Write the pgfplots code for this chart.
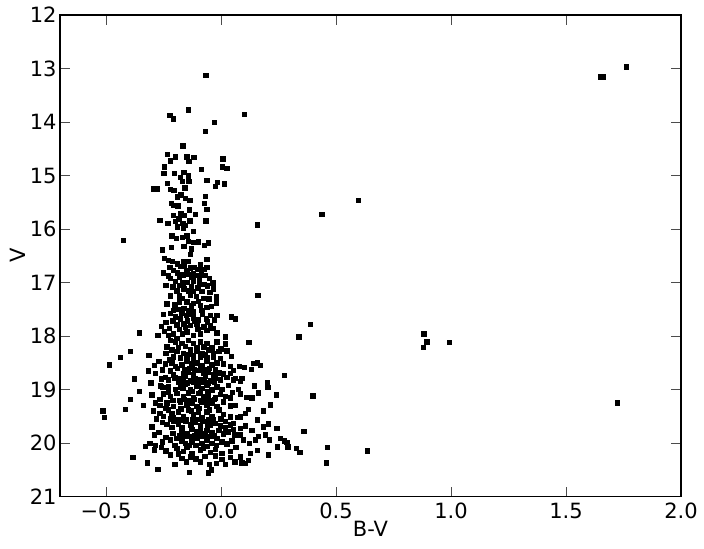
\documentclass[border=0pt]{standalone}
\usepackage{fontspec}
\setmainfont{DejaVu Sans}
\usepackage{pgfplots}
\pgfplotsset{compat=1.18}

\pgfplotstableread{
x y
1.649 13.16
1.662 13.16
1.762 12.97
1.723 19.25
0.597 15.47
0.438 15.73
0.388 17.78
0.339 18.02
0.882 17.96
0.895 18.11
0.881 18.21
0.992 18.12
0.275 18.74
0.400 19.12
0.636 20.15
0.463 20.08
0.459 20.37
0.361 19.78
-0.425 16.21
-0.513 19.40
-0.506 19.52
-0.066 13.13
-0.143 13.77
-0.223 13.88
-0.206 13.94
0.101 13.86
-0.030 14.01
-0.068 14.17
-0.165 14.45
-0.232 14.61
-0.199 14.65
-0.149 14.65
-0.117 14.66
-0.220 14.73
-0.139 14.74
0.009 14.69
0.006 14.84
0.025 14.87
-0.245 14.84
-0.085 14.89
-0.248 14.96
-0.202 14.96
-0.162 14.94
-0.142 15.01
-0.176 15.04
-0.139 15.11
-0.167 15.11
-0.062 15.09
-0.016 15.13
0.014 15.16
-0.024 15.20
-0.233 15.15
-0.293 15.25
-0.276 15.25
-0.219 15.26
-0.204 15.28
-0.157 15.23
-0.069 15.39
-0.190 15.40
-0.174 15.36
-0.154 15.43
-0.136 15.46
-0.216 15.52
-0.204 15.56
-0.187 15.57
-0.071 15.52
-0.061 15.63
-0.138 15.64
-0.206 15.75
-0.174 15.71
-0.158 15.75
-0.111 15.73
-0.265 15.84
-0.231 15.89
-0.199 15.86
-0.183 15.81
-0.165 15.89
-0.136 15.85
-0.065 15.85
0.159 15.92
-0.189 15.96
-0.164 15.98
-0.155 15.93
-0.213 16.13
-0.194 16.18
-0.167 16.16
-0.149 16.13
-0.119 16.05
-0.143 16.23
-0.098 16.24
-0.071 16.31
-0.056 16.26
-0.119 16.25
-0.215 16.34
-0.255 16.39
-0.130 16.37
-0.161 16.33
-0.133 16.48
-0.245 16.55
-0.229 16.59
-0.212 16.60
-0.161 16.60
-0.141 16.60
-0.061 16.57
-0.222 16.72
-0.206 16.77
-0.250 16.82
-0.148 16.78
-0.133 16.73
-0.115 16.72
-0.101 16.76
-0.075 16.76
-0.061 16.72
-0.140 16.85
-0.120 16.84
-0.105 16.87
-0.085 16.85
-0.070 16.87
-0.130 16.90
-0.095 16.92
-0.220 16.92
-0.180 16.91
-0.199 16.98
-0.165 17.01
-0.145 17.00
-0.119 16.97
-0.093 17.01
-0.035 17.01
-0.075 17.04
-0.032 17.12
-0.191 17.16
-0.162 17.12
-0.141 17.16
-0.119 17.17
-0.083 17.17
-0.049 17.18
-0.219 17.25
-0.180 17.25
-0.133 17.23
-0.107 17.26
-0.075 17.30
-0.053 17.31
-0.020 17.27
0.160 17.24
-0.180 17.36
-0.148 17.36
-0.119 17.39
-0.097 17.35
-0.043 17.45
-0.206 17.52
-0.184 17.50
-0.162 17.48
-0.141 17.52
-0.119 17.55
-0.083 17.52
-0.061 17.47
-0.017 17.61
0.044 17.64
0.063 17.68
-0.199 17.64
-0.177 17.68
-0.150 17.62
-0.119 17.66
-0.097 17.70
-0.064 17.68
-0.191 17.79
-0.162 17.77
-0.133 17.80
-0.104 17.77
-0.075 17.83
-0.046 17.80
-0.355 17.94
-0.275 17.99
-0.245 17.91
-0.228 17.99
-0.206 17.96
-0.191 18.04
-0.169 17.96
-0.148 17.92
-0.120 17.99
-0.090 17.96
-0.061 17.89
-0.017 17.94
0.019 18.02
0.121 18.12
-0.190 16.65
-0.175 16.70
-0.160 16.68
-0.090 16.66
-0.230 16.88
-0.190 16.82
-0.165 16.86
-0.050 16.92
-0.240 17.05
-0.210 17.08
-0.180 17.05
-0.130 17.08
-0.100 17.10
-0.060 17.06
-0.235 17.40
-0.200 17.42
-0.170 17.30
-0.130 17.44
-0.090 17.43
-0.020 17.38
-0.250 17.60
-0.220 17.58
-0.170 17.58
-0.135 17.60
-0.080 17.60
-0.045 17.62
-0.240 17.75
-0.210 17.72
-0.145 17.72
-0.115 17.73
-0.060 17.74
-0.030 17.70
-0.180 17.88
-0.155 17.84
-0.100 17.88
-0.035 17.86
-0.260 17.82
-0.225 17.86
-0.220 18.08
-0.199 18.11
-0.170 18.14
-0.141 18.08
-0.119 18.14
-0.090 18.11
-0.061 18.14
-0.017 18.11
0.019 18.15
-0.235 18.20
-0.185 18.21
-0.155 18.19
-0.105 18.22
-0.075 18.20
-0.040 18.22
0.000 18.24
-0.213 18.26
-0.191 18.29
-0.163 18.32
-0.133 18.26
-0.104 18.29
-0.083 18.32
-0.054 18.26
-0.032 18.32
-0.010 18.29
0.026 18.28
-0.206 18.39
-0.177 18.41
-0.148 18.40
-0.119 18.43
-0.090 18.39
-0.061 18.41
-0.032 18.40
-0.003 18.42
-0.240 18.33
-0.225 18.45
-0.140 18.34
-0.120 18.36
-0.070 18.35
0.045 18.38
-0.242 18.52
-0.213 18.50
-0.199 18.57
-0.170 18.54
-0.148 18.48
-0.126 18.52
-0.104 18.50
-0.083 18.56
-0.061 18.48
-0.039 18.54
-0.017 18.50
0.011 18.52
0.040 18.57
-0.220 18.65
-0.206 18.73
-0.163 18.70
-0.141 18.67
-0.119 18.73
-0.097 18.64
-0.076 18.70
-0.054 18.67
-0.032 18.73
-0.010 18.69
0.011 18.71
0.040 18.70
-0.242 18.77
-0.228 18.82
-0.177 18.79
-0.155 18.76
-0.133 18.84
-0.112 18.79
-0.090 18.82
-0.068 18.76
-0.047 18.84
-0.025 18.79
-0.003 18.82
0.026 18.77
0.055 18.82
-0.264 18.92
-0.252 18.96
-0.199 19.00
-0.177 18.95
-0.155 18.90
-0.133 19.01
-0.104 18.93
-0.083 18.98
-0.061 18.92
-0.039 19.01
-0.017 18.95
0.004 19.00
0.033 18.92
-0.264 19.18
-0.220 19.13
-0.191 19.07
-0.163 19.13
-0.141 19.06
-0.119 19.15
-0.097 19.07
-0.076 19.13
-0.054 19.10
-0.025 19.16
-0.003 19.09
0.019 19.13
0.040 19.16
-0.235 19.25
-0.206 19.32
-0.177 19.23
-0.148 19.29
-0.126 19.25
-0.104 19.32
-0.083 19.23
-0.061 19.29
-0.039 19.26
-0.017 19.32
0.011 19.23
0.040 19.31
-0.250 19.50
-0.228 19.38
-0.213 19.45
-0.206 19.53
-0.184 19.42
-0.163 19.50
-0.141 19.38
-0.119 19.46
-0.097 19.42
-0.083 19.52
-0.061 19.42
-0.039 19.51
-0.010 19.38
0.011 19.46
0.040 19.51
-0.206 19.60
-0.184 19.64
-0.155 19.60
-0.133 19.66
-0.112 19.62
-0.090 19.68
-0.068 19.60
-0.047 19.66
-0.025 19.63
-0.003 19.68
0.019 19.60
0.040 19.66
-0.213 19.71
-0.170 19.76
-0.148 19.82
-0.126 19.75
-0.104 19.79
-0.083 19.83
-0.061 19.76
-0.039 19.81
-0.010 19.76
0.011 19.83
0.033 19.79
0.055 19.75
-0.220 19.94
-0.191 19.91
-0.170 19.96
-0.155 20.01
-0.126 19.98
-0.104 19.91
-0.083 20.01
-0.061 19.94
-0.039 20.01
-0.017 19.91
0.004 19.98
0.026 20.02
0.048 19.96
-0.191 20.10
-0.163 20.16
-0.148 20.08
-0.126 20.19
-0.090 20.13
-0.076 20.10
-0.047 20.18
-0.025 20.12
0.004 20.19
0.040 20.16
-0.170 20.29
-0.133 20.26
-0.090 20.35
-0.025 20.24
0.004 20.31
0.040 20.27
-0.042 20.50
-0.190 18.60
-0.160 18.62
-0.135 18.60
-0.115 18.62
-0.090 18.60
-0.070 18.62
-0.050 18.60
-0.025 18.62
-0.185 18.87
-0.165 18.86
-0.145 18.88
-0.120 18.86
-0.100 18.88
-0.075 18.86
-0.055 18.88
-0.030 18.86
-0.180 19.20
-0.160 19.19
-0.140 19.20
-0.115 19.19
-0.090 19.20
-0.070 19.19
-0.050 19.20
-0.030 19.19
-0.190 19.56
-0.170 19.57
-0.150 19.56
-0.125 19.57
-0.105 19.56
-0.080 19.57
-0.055 19.56
-0.035 19.57
-0.180 19.87
-0.160 19.87
-0.135 19.88
-0.115 19.87
-0.095 19.88
-0.070 19.87
-0.050 19.88
-0.030 19.87
-0.165 18.97
-0.125 19.04
-0.090 19.05
-0.060 19.03
-0.175 19.36
-0.130 19.40
-0.095 19.35
-0.050 19.38
-0.170 19.72
-0.130 19.70
-0.090 19.72
-0.060 19.70
-0.140 20.04
-0.110 20.05
-0.060 20.06
-0.020 20.05
-0.300 19.10
-0.285 19.25
-0.230 19.05
-0.210 19.20
-0.240 19.35
-0.220 19.55
-0.235 19.65
-0.210 19.82
-0.300 19.70
-0.290 19.85
-0.260 20.08
-0.200 20.05
-0.185 20.20
-0.150 20.35
-0.110 20.30
-0.070 20.25
-0.050 20.40
-0.020 20.38
0.020 20.40
0.060 20.35
-0.230 18.95
-0.285 18.70
-0.290 18.55
-0.200 18.78
0.000 19.55
0.020 19.72
0.060 19.85
0.065 20.08
0.070 19.52
0.060 19.30
0.075 19.00
0.050 19.05
0.081 18.57
0.103 18.59
0.132 18.62
0.142 18.51
0.157 18.50
0.171 18.55
0.055 18.64
0.062 18.79
0.084 18.85
0.091 18.79
0.145 18.93
0.203 18.88
0.204 18.96
0.240 19.10
0.163 19.06
0.135 19.16
0.113 19.15
0.084 19.08
0.214 19.29
0.185 19.40
0.120 19.37
0.084 19.51
0.106 19.45
0.243 19.73
0.207 19.64
0.185 19.70
0.157 19.57
0.135 19.76
0.106 19.68
0.084 19.73
0.055 19.63
0.258 19.91
0.275 19.96
0.287 19.99
0.291 20.07
0.246 20.07
0.210 19.94
0.193 19.85
0.163 19.88
0.149 19.94
0.124 20.01
0.098 19.94
0.084 19.85
0.327 20.10
0.343 20.17
0.207 20.22
0.157 20.14
0.127 20.19
0.120 20.32
0.106 20.38
0.091 20.37
0.084 20.26
-0.484 18.54
-0.438 18.40
-0.394 18.29
-0.313 18.36
-0.316 18.65
-0.376 18.80
-0.304 18.88
-0.355 19.03
-0.393 19.19
-0.416 19.37
-0.338 19.30
-0.294 19.40
-0.281 19.55
-0.268 19.18
-0.265 19.30
-0.330 20.06
-0.310 20.01
-0.290 20.13
-0.286 20.05
-0.383 20.27
-0.319 20.37
-0.274 20.49
-0.254 19.98
-0.138 20.55
-0.054 20.56
-0.261 18.94
-0.270 18.47
-0.255 18.63
-0.260 18.80
-0.250 19.08
-0.265 19.45
-0.255 19.62
-0.270 19.80
-0.240 19.90
-0.240 20.15
-0.220 20.22
-0.200 20.40
}\cmdtable

\begin{document}
\begin{tikzpicture}
\useasboundingbox (-30pt,-26.25pt) rectangle (322pt,248.25pt);
\begin{axis}[
  scale only axis,
  width=310.5pt, height=240.75pt,
  xmin=-0.7, xmax=2.0,
  ymin=12, ymax=21,
  y dir=reverse,
  xtick={-0.5,0,0.5,1.0,1.5,2.0},
  xticklabels={−0.5,0.0,0.5,1.0,1.5,2.0},
  ytick={12,13,14,15,16,17,18,19,20,21},
  yticklabels={12,13,14,15,16,17,18,19,20,21},
  tick align=inside,
  major tick length=5pt,
  minor tick num=0,
  tick style={black!70, line width=0.5pt},
  axis line style={black, line width=0.9pt},
  every tick label/.append style={font=\fontsize{10.5}{12}\selectfont},
  yticklabel style={inner sep=1.5pt},
  xticklabel style={inner sep=3pt},
  xlabel={B-V},
  ylabel={V},
  every axis x label/.style={at={(axis description cs:0.5,0)}, anchor=center, yshift=-16pt, font=\fontsize{10.5}{12}\selectfont},
  every axis y label/.style={at={(axis description cs:0,0.5)}, anchor=center, rotate=90, yshift=21pt, font=\fontsize{10.5}{12}\selectfont},
]
\addplot[only marks, mark=square*, mark size=1.1pt, mark options={draw=none, fill=black}] table[x=x, y=y] {\cmdtable};
\end{axis}
\end{tikzpicture}
\end{document}
